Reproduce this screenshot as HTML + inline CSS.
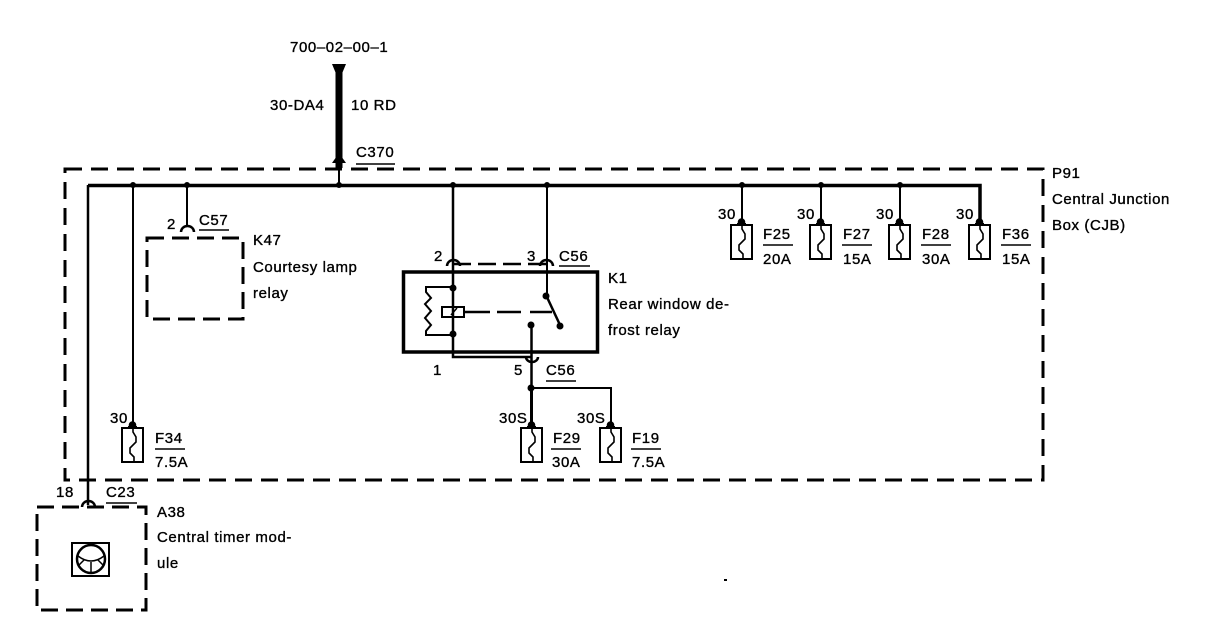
<!DOCTYPE html>
<html><head><meta charset="utf-8"><style>
html,body{margin:0;padding:0;background:#fff}
svg{display:block}
text{font-family:"Liberation Sans",sans-serif;font-size:15px;letter-spacing:.6px;fill:#000;stroke:#000;stroke-width:.35}
</style></head><body>
<svg width="1216" height="642" viewBox="0 0 1216 642" xmlns="http://www.w3.org/2000/svg">
<defs>
<g id="f" fill="none" stroke="#000">
<rect x="0" y="0" width="21" height="34" stroke-width="2"/>
<path d="M11 0 L11 4 L14 9 L14 14 L8 20 L8 25 L12 29 L12 34" stroke-width="1.600"/>
<circle cx="10.500" cy="-3" r="3.800" fill="#000" stroke="none"/>
<rect x="6" y="-2" width="9" height="2" fill="#000" stroke="none"/>
</g>
</defs>
<g fill="none" stroke="#000">
<!-- junction box -->
<rect x="65" y="169" width="978" height="311" stroke-width="3" stroke-dasharray="17 9"/>
<!-- feed -->
<path d="M339 66V168" stroke-width="7"/>
<path d="M339 165V185" stroke-width="2"/>
<!-- bus -->
<path d="M88 185.500H980V225" stroke-width="3.500"/>
<path d="M88 185V505" stroke-width="2.500"/>
<path d="M133 185V425M187 185V227" stroke-width="2"/>
<path d="M453 185V357H532" stroke-width="2.500"/>
<path d="M547 185V295" stroke-width="2"/>
<path d="M742 185V222M821 185V222M900 185V222" stroke-width="2"/>
<!-- K47 -->
<rect x="147" y="238" width="96" height="81" stroke-width="3" stroke-dasharray="17 8"/>
<!-- A38 -->
<rect x="37" y="507" width="109" height="103" stroke-width="3" stroke-dasharray="17 8"/>
<!-- K1 -->
<rect x="403.500" y="272" width="194" height="80" stroke-width="3.500"/>
<path d="M453 264H547" stroke-width="2.500" stroke-dasharray="18 7"/>
<!-- connector arcs -->
<path d="M447 266a6.500 6 0 0 1 13 0M540 266a6.500 6 0 0 1 13 0M181 232a6.500 6 0 0 1 13 0M82 507a6.500 6 0 0 1 13 0" stroke-width="2.500"/>
<path d="M526 357a6 5 0 0 0 12 0" stroke-width="2.500"/>
<!-- coil -->
<path d="M453 287H426V292L431 298L425 304L431 311L425 318L431 325L426 331V335H453" stroke-width="2"/>
<rect x="442" y="307" width="22" height="10" stroke-width="2"/>
<path d="M451 315L457 308" stroke-width="1.500"/>
<path d="M464 312H490M497 312H521M530 312H552" stroke-width="2.500"/>
<path d="M546 295L560 325" stroke-width="2.500"/>
<path d="M531.500 325V385" stroke-width="2.500"/>
<path d="M531.500 389V425" stroke-width="3"/>
<path d="M531 388H611V425" stroke-width="2"/>
<!-- icon -->
<rect x="72" y="543" width="37" height="33" stroke-width="2"/>
<circle cx="91" cy="559" r="14" stroke-width="2.500"/>
<path d="M78 556 Q91 566 104 556M91 562V573M84 560L78 566M98 560L104 566" stroke-width="1.500"/>
<!-- underlines -->
<g stroke-width="1.500">
<path d="M356 164H395M199 230H229M559 266H590M546 381H576M106 503H137"/>
<path d="M155 449H185M551 449H581M631 449H661M763 245H793M842 245H872M921 245H951M1001 245H1031"/>
</g>
</g>
<g fill="#000">
<path d="M332 64H346L341 76H337Z"/>
<path d="M332 163H346L339 153Z"/>
<circle cx="339" cy="185" r="3"/><circle cx="133" cy="185" r="3"/><circle cx="187" cy="185" r="3"/>
<circle cx="453" cy="185" r="3"/><circle cx="547" cy="185" r="3"/><circle cx="742" cy="185" r="3"/>
<circle cx="821" cy="185" r="3"/><circle cx="900" cy="185" r="3"/>
<circle cx="453" cy="288" r="3.500"/><circle cx="453" cy="334" r="3.500"/>
<circle cx="546" cy="296" r="3.500"/><circle cx="560" cy="326" r="3.500"/><circle cx="531" cy="325" r="3.500"/>
<circle cx="531" cy="388" r="3.500"/>
</g>
<use href="#f" x="731" y="225"/>
<use href="#f" x="810" y="225"/>
<use href="#f" x="889" y="225"/>
<use href="#f" x="969" y="225"/>
<use href="#f" x="122" y="428"/>
<use href="#f" x="521" y="428"/>
<use href="#f" x="600" y="428"/>
<g>
<text x="290" y="52">700–02–00–1</text>
<text x="270" y="110">30-DA4</text>
<text x="351" y="110">10 RD</text>
<text x="356" y="157">C370</text>
<text x="1052" y="178">P91</text>
<text x="1052" y="204">Central Junction</text>
<text x="1052" y="230">Box (CJB)</text>
<text x="167" y="229">2</text>
<text x="199" y="225">C57</text>
<text x="253" y="245">K47</text>
<text x="253" y="272">Courtesy lamp</text>
<text x="253" y="298">relay</text>
<text x="434" y="261">2</text>
<text x="527" y="261">3</text>
<text x="559" y="261">C56</text>
<text x="608" y="283">K1</text>
<text x="608" y="309">Rear window de-</text>
<text x="608" y="335">frost relay</text>
<text x="433" y="375">1</text>
<text x="514" y="375">5</text>
<text x="546" y="375">C56</text>
<text x="718" y="219">30</text>
<text x="797" y="219">30</text>
<text x="876" y="219">30</text>
<text x="956" y="219">30</text>
<text x="763" y="239">F25</text><text x="763" y="264">20A</text>
<text x="843" y="239">F27</text><text x="843" y="264">15A</text>
<text x="922" y="239">F28</text><text x="922" y="264">30A</text>
<text x="1002" y="239">F36</text><text x="1002" y="264">15A</text>
<text x="110" y="423">30</text>
<text x="155" y="443">F34</text><text x="155" y="467">7.5A</text>
<text x="499" y="423">30S</text>
<text x="577" y="423">30S</text>
<text x="553" y="443">F29</text><text x="552" y="467">30A</text>
<text x="632" y="443">F19</text><text x="632" y="467">7.5A</text>
<text x="56" y="497">18</text>
<text x="106" y="497">C23</text>
<text x="157" y="517">A38</text>
<text x="157" y="542">Central timer mod-</text>
<text x="157" y="568">ule</text>
</g>
<rect x="724" y="579" width="3" height="2" fill="#000"/>
</svg>
</body></html>
